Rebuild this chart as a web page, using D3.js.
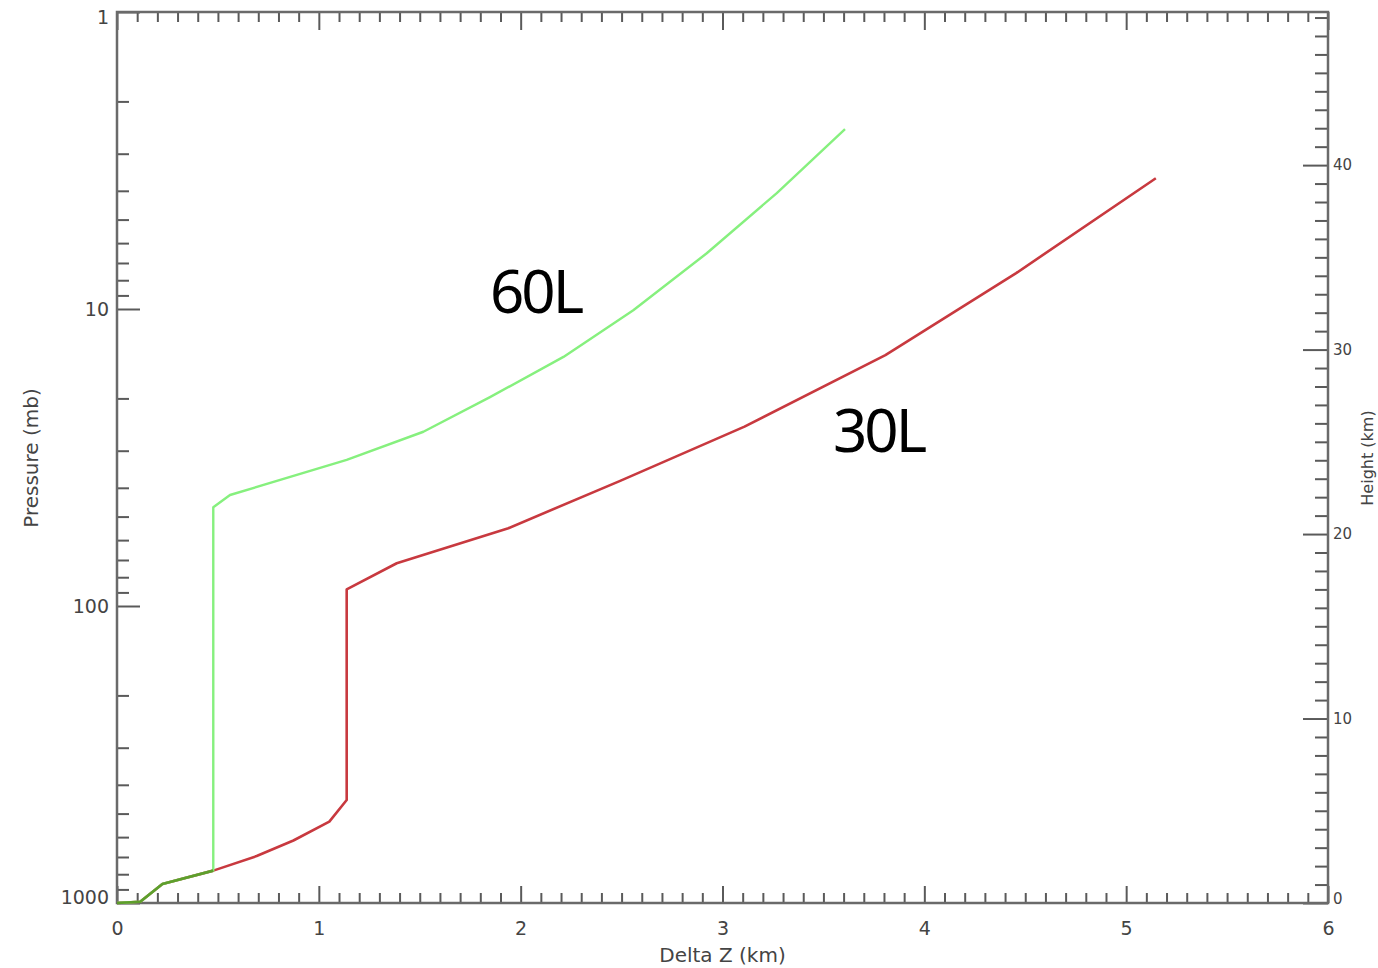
<!DOCTYPE html>
<html>
<head>
<meta charset="utf-8">
<script src="https://cdn.jsdelivr.net/npm/d3@7"></script>
<style>
	body { margin: 0; background: #fff; }
	svg { display: block; }
	.tick text { font-family: "DejaVu Sans", sans-serif; font-size: 19px; fill: #444; }
	.tick line { stroke: #5a5a5a; stroke-width: 2; }
</style>
</head>
<body>
<svg id="chart" width="1378" height="968"></svg>
<script>

// tick values
var dzTicks = [0, 1, 2, 3, 4, 5, 6];
var pTicks = [1, 10, 100, 1000];
var hTicks = [0, 10, 20, 30, 40];

// 60L layer thickness profile (Delta Z km vs pressure mb)
var dz60 = [0, 0.115, 0.225, 0.477, 0.477, 0.56, 1.138, 1.518, 1.848, 2.212, 2.558, 2.922, 3.269, 3.607];
var p60  = [1000, 990, 863, 778, 46.5, 42.3, 32.2, 25.9, 19.8, 14.5, 10.1, 6.49, 4.07, 2.48];

// 30L layer thickness profile
var dz30 = [0, 0.115, 0.225, 0.477, 0.692, 0.874, 1.052, 1.138, 1.138, 1.386, 1.939, 2.493, 3.109, 3.807, 4.455, 5.147];
var p30  = [1000, 990, 863, 778, 695, 616, 532, 450, 87.9, 71.8, 54.7, 37.9, 24.9, 14.3, 7.57, 3.63];

var plotLeft = 117, plotRight = 1328, plotTop = 12, plotBottom = 903;

var svg = d3.select("#chart");

var x = d3.scaleLinear().domain([0, 6]).range([plotLeft, plotRight]);
var y = d3.scaleLog().domain([1000, 1]).range([plotBottom, plotTop]);
var h = d3.scaleLinear().domain([0, 48.3]).range([plotBottom, plotTop]);

// minor tick values
var dzMinor = d3.range(0, 60).map(function(i) { return i / 10; }).filter(function(d, i) { return i % 10 != 0; });
var pMinor = [];
[1, 10, 100].forEach(function(dec) {
	for (var m = 2; m <= 9; m++) pMinor.push(dec * m);
});
var hMinor = d3.range(0, 49).filter(function(d) { return d % 10 != 0; });

function noLabel() { return ""; }

// bottom axis
svg.append("g").attr("transform", "translate(0," + plotBottom + ")")
	.call(d3.axisBottom(x).tickValues(dzMinor).tickSizeInner(-10).tickSizeOuter(0).tickFormat(noLabel));
svg.append("g").attr("transform", "translate(0," + plotBottom + ")")
	.call(d3.axisBottom(x).tickValues(dzTicks).tickSizeInner(-17).tickSizeOuter(0).tickPadding(19).tickFormat(d3.format("d")));

// top axis (mirror, no labels)
svg.append("g").attr("transform", "translate(0," + plotTop + ")")
	.call(d3.axisTop(x).tickValues(dzMinor).tickSizeInner(-10).tickSizeOuter(0).tickFormat(noLabel));
svg.append("g").attr("transform", "translate(0," + plotTop + ")")
	.call(d3.axisTop(x).tickValues(dzTicks).tickSizeInner(-18).tickSizeOuter(0).tickFormat(noLabel));

// left pressure axis
svg.append("g").attr("transform", "translate(" + plotLeft + ",0)")
	.call(d3.axisLeft(y).tickValues(pMinor).tickSizeInner(-12).tickSizeOuter(0).tickFormat(noLabel));
var yAxis = svg.append("g").attr("transform", "translate(" + plotLeft + ",0)")
	.call(d3.axisLeft(y).tickValues(pTicks).tickSizeInner(-23).tickSizeOuter(0).tickPadding(8).tickFormat(d3.format("d")));
yAxis.selectAll(".tick text")
	.attr("dy", function(d) { return d == 1000 ? "0.05em" : d == 1 ? "0.6em" : "0.32em"; });

// right height axis
svg.append("g").attr("transform", "translate(" + plotRight + ",0)")
	.call(d3.axisRight(h).tickValues(hMinor).tickSizeInner(-13).tickSizeOuter(0).tickFormat(noLabel));
var hAxis = svg.append("g").attr("transform", "translate(" + plotRight + ",0)")
	.call(d3.axisRight(h).tickValues(hTicks).tickSizeInner(-25).tickSizeOuter(0).tickPadding(5).tickFormat(d3.format("d")));
hAxis.selectAll(".tick text")
	.style("font-size", "15px")
	.attr("dy", function(d) { return d == 0 ? "0.05em" : "0.32em"; });

svg.selectAll(".domain").remove();

// frame
svg.append("rect")
	.attr("x", plotLeft).attr("y", plotTop)
	.attr("width", plotRight - plotLeft).attr("height", plotBottom - plotTop)
	.attr("fill", "none")
	.attr("stroke", "#6a6a6a")
	.attr("stroke-width", 2.5);

// profiles
var line = d3.line()
	.x(function(d) { return x(d[0]); })
	.y(function(d) { return y(d[1]); });

var data30 = dz30.map(function(d, i) { return [d, p30[i]]; });
var data60 = dz60.map(function(d, i) { return [d, p60[i]]; });

// part of the profiles that both resolutions share
var shared = [];
for (var i = 0; i < data60.length; i++) {
	if (data30[i] && data30[i][0] == data60[i][0] && data30[i][1] == data60[i][1]) shared.push(data60[i]);
	else break;
}

svg.append("path").datum(data30)
	.attr("d", line).attr("fill", "none")
	.attr("stroke", "#c8393f").attr("stroke-width", 2.6).attr("stroke-linejoin", "round");

svg.append("path").datum(data60)
	.attr("d", line).attr("fill", "none")
	.attr("stroke", "#86f07e").attr("stroke-width", 2.4).attr("stroke-linejoin", "round");

svg.append("path").datum(shared)
	.attr("d", line).attr("fill", "none")
	.attr("stroke", "#5e9e2c").attr("stroke-width", 2.6).attr("stroke-linejoin", "round");

// axis titles
svg.append("text")
	.attr("x", (plotLeft + plotRight) / 2).attr("y", 962)
	.attr("text-anchor", "middle")
	.attr("font-family", "DejaVu Sans").attr("font-size", 20).attr("fill", "#444")
	.text("Delta Z (km)");

svg.append("text")
	.attr("transform", "translate(38,458) rotate(-90)")
	.attr("text-anchor", "middle")
	.attr("font-family", "DejaVu Sans").attr("font-size", 20).attr("fill", "#444")
	.text("Pressure (mb)");

svg.append("text")
	.attr("transform", "translate(1373,458) rotate(-90)")
	.attr("text-anchor", "middle")
	.attr("font-family", "DejaVu Sans").attr("font-size", 16).attr("fill", "#444")
	.text("Height (km)");

// series labels
svg.append("text")
	.attr("x", 490).attr("y", 313)
	.attr("font-family", "Noto Sans").attr("font-size", 60).attr("letter-spacing", -3).attr("fill", "#000")
	.text("60L");

svg.append("text")
	.attr("x", 833).attr("y", 452)
	.attr("font-family", "Noto Sans").attr("font-size", 60).attr("letter-spacing", -3).attr("fill", "#000")
	.text("30L");

</script>
</body>
</html>
